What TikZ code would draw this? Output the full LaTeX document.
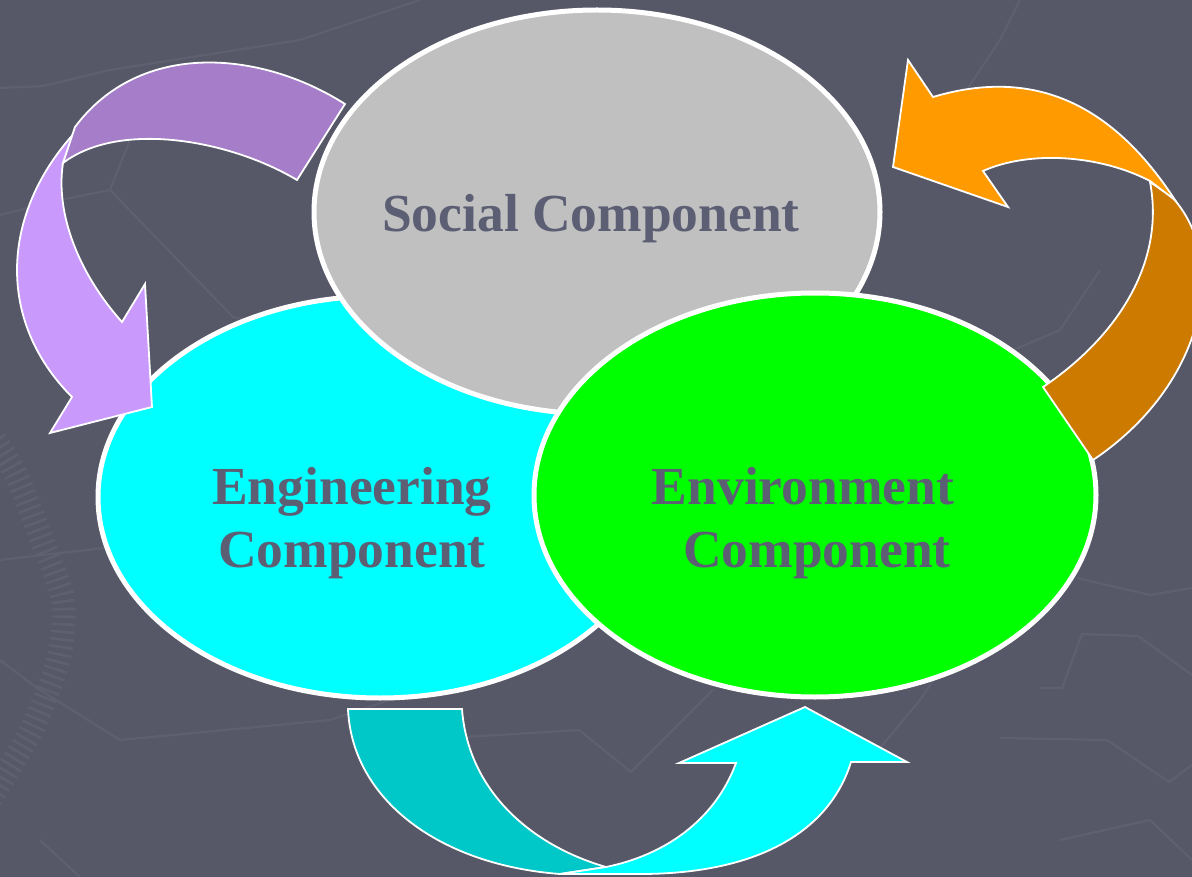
\documentclass[tikz,border=0pt]{standalone}
\usepackage{fontspec}
\setmainfont{Liberation Serif}
\usetikzlibrary{shapes.geometric}
\definecolor{bg}{HTML}{565868}
\definecolor{tex}{HTML}{5E606F}
\definecolor{txt}{HTML}{5C5E74}
\definecolor{greyc}{HTML}{C0C0C0}
\definecolor{cyanc}{HTML}{00FFFF}
\definecolor{greenc}{HTML}{00FF00}
\definecolor{purd}{HTML}{A57DC8}
\definecolor{purl}{HTML}{C999FC}
\definecolor{orl}{HTML}{FF9A00}
\definecolor{ord}{HTML}{CC7A00}
\definecolor{teald}{HTML}{00C8C8}
\tikzset{
  ell/.style={ellipse, draw=white, line width=5pt, inner sep=0pt},
  lbl/.style={anchor=base, text=txt, font=\fontsize{53.5}{64}\selectfont\bfseries, inner sep=0pt},
  blk/.style={draw=white, line width=1.8pt, line join=miter},
  texl/.style={draw=tex, line width=2.2pt}
}
\begin{document}
\begin{tikzpicture}[x=1pt,y=-1pt]
\useasboundingbox (0,0) rectangle (1192,877);
\clip (0,0) rectangle (1192,877);
\fill[bg] (0,0) rectangle (1192,877);
% faint background texture
\draw[tex, line width=24pt, dash pattern=on 2.6pt off 5pt] plot[smooth] coordinates {(-5,440) (17,477) (43,543) (63,600) (60,653) (47,693) (30,733) (8,770) (-10,800)};
\draw[texl] (0,88) -- (43,86) -- (110,70) -- (300,40) -- (420,0);
\draw[texl] (130,140) -- (110,190) -- (233,317) -- (300,330);
\draw[texl] (0,215) -- (60,200) -- (110,190);
\draw[texl] (0,660) -- (40,690) -- (120,740) -- (330,720) -- (420,690);
\draw[texl] (0,560) -- (130,545);
\draw[texl] (464,737) -- (579,730) -- (631,772) -- (713,690);
\draw[texl] (1040,688) -- (1062,688) -- (1082,634) -- (1138,636) -- (1192,675);
\draw[texl] (1000,738) -- (1107,740) -- (1169,782) -- (1192,765);
\draw[texl] (1077,578) -- (1150,595) -- (1192,588);
\draw[texl] (1060,840) -- (1150,820) -- (1192,860);
\draw[texl] (960,100) -- (1000,40) -- (1020,0);
\draw[texl] (1100,270) -- (1060,330) -- (990,360);
\draw[texl] (870,760) -- (920,700) -- (960,640);
\draw[texl] (40,840) -- (80,877);
% ellipses
\node[ell, fill=cyanc, minimum width=564pt, minimum height=402pt] (eng) at (380,497) {};
\node[ell, fill=greyc, minimum width=566pt, minimum height=404pt] (soc) at (597,212) {};
\node[ell, fill=greenc, minimum width=562pt, minimum height=404pt] (env) at (815,495) {};
% labels
\node[lbl] (socT) at (591,232) {Social Component};
\node[lbl] (engT1) at (352,504) {Engineering};
\node[lbl] (engT2) at (352,567) {Component};
\node[lbl] (envT1) at (803,504) {Environment};
\node[lbl] (envT2) at (817,567) {Component};
% purple curved arrow (social -> engineering)
\path[blk, fill=purl] (80,127) .. controls (0,210) and (-5,320) .. (72,397)
  -- (50,433) -- (152,407) -- (145,284) -- (122,322)
  .. controls (80,275) and (55,215) .. (63,163) -- cycle;
\path[blk, fill=purd] (345,104) .. controls (260,50) and (140,40) .. (75,127)
  -- (63,163) .. controls (120,120) and (230,140) .. (297,180) -- cycle;
% orange curved arrow (environment -> social)
\path[blk, fill=ord] (1043,387) .. controls (1120,335) and (1165,260) .. (1150,182)
  -- (1172,197) .. controls (1230,260) and (1205,385) .. (1093,460) -- cycle;
\path[blk, fill=orl] (933,97) .. controls (1030,68) and (1110,100) .. (1175,200)
  -- (1150,181) .. controls (1100,155) and (1030,150) .. (983,171)
  -- (1008,207) -- (893,167) -- (908,60) -- cycle;
% teal curved arrow (engineering -> environment)
\path[blk, fill=teald] (348,709) -- (462,709) .. controls (468,790) and (530,845) .. (606,867)
  -- (560,874) .. controls (440,865) and (352,800) .. (348,709) -- cycle;
\path[blk, fill=cyanc] (560,874) -- (640,874) .. controls (760,874) and (830,830) .. (851,762)
  -- (907,762) -- (805,707) -- (679,763) -- (736,763)
  .. controls (715,820) and (665,855) .. (606,867) -- cycle;
\end{tikzpicture}
\end{document}
